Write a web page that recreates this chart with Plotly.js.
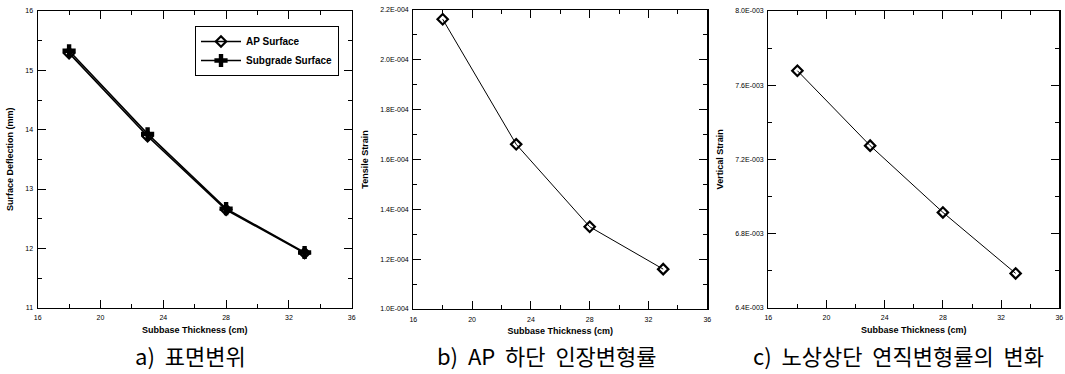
<!DOCTYPE html>
<html>
<head>
<meta charset="utf-8">
<script src="https://cdn.plot.ly/plotly-3.0.1.min.js"></script>
<style>html,body{margin:0;padding:0;background:#fff;}#chart{width:1065px;height:374px;}</style>
</head>
<body>
<div id="chart"></div>
<script>
// ---- data ----
const thickness = [18, 23, 28, 33];
const apSurfaceDeflection = [15.29, 13.89, 12.65, 11.92];
const subgradeSurfaceDeflection = [15.33, 13.93, 12.67, 11.93];
const apTensileStrain = [2.163e-4, 1.661e-4, 1.330e-4, 1.160e-4];
const verticalStrain = [7.678e-3, 7.274e-3, 6.914e-3, 6.585e-3];

const xTickVals = [16, 20, 24, 28, 32, 36];
const xTickText = ["16", "20", "24", "28", "32", "36"];
const xMinorVals = [18, 22, 26, 30, 34];
const aTickVals = [11, 12, 13, 14, 15, 16];
const aTickText = ["11", "12", "13", "14", "15", "16"];
const aMinorVals = [11.5, 12.5, 13.5, 14.5, 15.5];
const bTickVals = [1.0e-4, 1.2e-4, 1.4e-4, 1.6e-4, 1.8e-4, 2.0e-4, 2.2e-4];
const bTickText = ["1.0E-004", "1.2E-004", "1.4E-004", "1.6E-004", "1.8E-004", "2.0E-004", "2.2E-004"];
const bMinorVals = [1.1e-4, 1.3e-4, 1.5e-4, 1.7e-4, 1.9e-4, 2.1e-4];
const cTickVals = [6.4e-3, 6.8e-3, 7.2e-3, 7.6e-3, 8.0e-3];
const cTickText = ["6.4E-003", "6.8E-003", "7.2E-003", "7.6E-003", "8.0E-003"];
const cMinorVals = [6.6e-3, 7.0e-3, 7.4e-3, 7.8e-3];

const seriesNames = ["AP Surface", "Subgrade Surface"];
const xTitle = "Subbase Thickness (cm)";
const yTitles = ["Surface Deflection (mm)", "Tensile Strain", "Vertical Strain"];
const captions = ["a)&nbsp;&nbsp;표면변위", "b)&nbsp;&nbsp;AP&nbsp;&nbsp;하단&nbsp;&nbsp;인장변형률", "c)&nbsp;&nbsp;노상상단&nbsp;&nbsp;연직변형률의&nbsp;&nbsp;변화"];

// ---- layout helpers ----
const W = 1065, H = 374;
const px = v => v / W;
const py = v => (H - v) / H;
const tickFont = {family: "Liberation Sans, Arial, sans-serif", size: 7, color: "#000"};
const titleFont = {family: "Liberation Sans, Arial, sans-serif", size: 9, color: "#000", weight: "bold"};

function xAxis(domain, anchor) {
  return {
    domain: domain, anchor: anchor, range: [16, 36],
    tickmode: "array", tickvals: xTickVals, ticktext: xTickText,
    ticks: "inside", ticklen: 8, tickwidth: 1, tickcolor: "#000", ticklabelstandoff: 3,
    minor: {ticks: "inside", ticklen: 4, tickwidth: 1, tickcolor: "#000", tickmode: "array", tickvals: xMinorVals, showgrid: false},
    showline: true, linecolor: "#000", linewidth: 1.2, mirror: "ticks",
    showgrid: false, zeroline: false, tickfont: tickFont,
    title: {text: xTitle, font: titleFont, standoff: 6}
  };
}
function yAxis(domain, anchor, range, vals, text, minorVals, title) {
  return {
    domain: domain, anchor: anchor, range: range,
    tickmode: "array", tickvals: vals, ticktext: text,
    ticks: "inside", ticklen: 8, tickwidth: 1, tickcolor: "#000", ticklabelstandoff: 2,
    minor: {ticks: "inside", ticklen: 4, tickwidth: 1, tickcolor: "#000", tickmode: "array", tickvals: minorVals, showgrid: false},
    showline: true, linecolor: "#000", linewidth: 1.2, mirror: "ticks",
    showgrid: false, zeroline: false, tickfont: tickFont,
    title: {text: title, font: titleFont, standoff: 10}
  };
}

const diamond = {symbol: "diamond-open", size: 8, color: "#000", line: {width: 2.2, color: "#000"}};

const traces = [
  {x: thickness, y: apSurfaceDeflection, name: seriesNames[0], xaxis: "x", yaxis: "y",
   mode: "lines+markers", line: {color: "#000", width: 1.6}, marker: diamond},
  {x: thickness, y: subgradeSurfaceDeflection, name: seriesNames[1], xaxis: "x", yaxis: "y",
   mode: "lines+markers", line: {color: "#000", width: 1.6},
   marker: {symbol: "cross", size: 11, color: "#000", line: {width: 0}}},
  {x: thickness, y: apTensileStrain, name: "AP Tensile", xaxis: "x2", yaxis: "y2", showlegend: false,
   mode: "lines+markers", line: {color: "#000", width: 1}, marker: diamond},
  {x: thickness, y: verticalStrain, name: "Vertical", xaxis: "x3", yaxis: "y3", showlegend: false,
   mode: "lines+markers", line: {color: "#000", width: 1}, marker: diamond}
];

const capFont = {family: "Noto Sans CJK KR, sans-serif", size: 22, color: "#000"};

const layout = {
  width: W, height: H,
  margin: {l: 0, r: 0, t: 0, b: 0},
  paper_bgcolor: "#fff", plot_bgcolor: "#fff",
  font: {family: "Liberation Sans, Arial, sans-serif", color: "#000"},
  xaxis: xAxis([px(37.7), px(351.7)], "y"),
  yaxis: yAxis([py(307.7), py(11)], "x", [11, 16], aTickVals, aTickText, aMinorVals, yTitles[0]),
  xaxis2: xAxis([px(413.3), px(707.3)], "y2"),
  yaxis2: yAxis([py(309), py(10)], "x2", [1.0e-4, 2.2e-4], bTickVals, bTickText, bMinorVals, yTitles[1]),
  xaxis3: xAxis([px(768.3), px(1059.3)], "y3"),
  yaxis3: yAxis([py(307.7), py(11)], "x3", [6.4e-3, 8.0e-3], cTickVals, cTickText, cMinorVals, yTitles[2]),
  showlegend: true,
  legend: {
    x: px(339), y: py(26), xanchor: "right", yanchor: "top",
    bgcolor: "#fff", bordercolor: "#000", borderwidth: 1,
    font: {family: "Liberation Sans, Arial, sans-serif", size: 10, color: "#000", weight: "bold"},
    tracegroupgap: 0, itemwidth: 40
  },
  annotations: [
    {text: captions[0], x: px(190), y: py(355), xref: "paper", yref: "paper", xanchor: "center", yanchor: "middle", showarrow: false, font: capFont},
    {text: captions[1], x: px(547), y: py(355), xref: "paper", yref: "paper", xanchor: "center", yanchor: "middle", showarrow: false, font: capFont},
    {text: captions[2], x: px(898), y: py(355), xref: "paper", yref: "paper", xanchor: "center", yanchor: "middle", showarrow: false, font: capFont}
  ]
};

Plotly.newPlot("chart", traces, layout, {displayModeBar: false, staticPlot: true});
</script>
</body>
</html>
